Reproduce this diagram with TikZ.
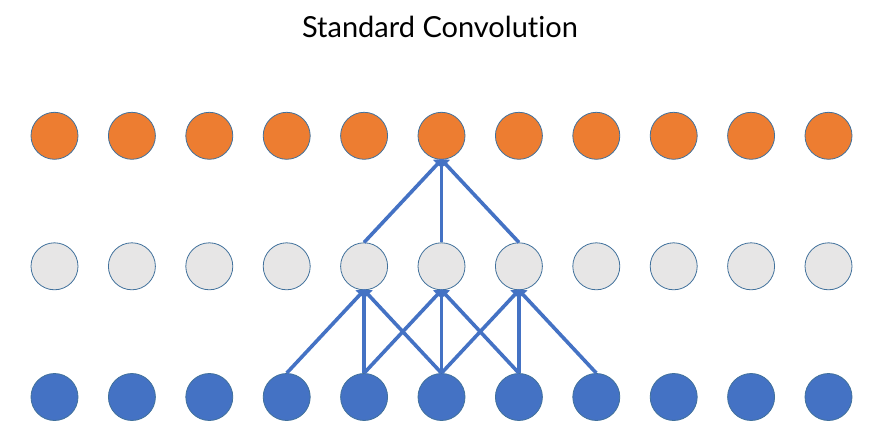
\documentclass[tikz,border=0pt]{standalone}
\usepackage{fontspec}
\setmainfont[Ligatures={NoCommon}]{Lato}
\usetikzlibrary{arrows.meta}
\definecolor{orng}{HTML}{ED7D31}
\definecolor{gry}{HTML}{E7E6E6}
\definecolor{blu}{HTML}{4472C4}
\definecolor{edge}{HTML}{41719C}
\tikzset{
  unit/.style={circle, minimum size=47pt, inner sep=0pt, draw=edge, line width=0.8pt},
  outn/.style={unit, fill=orng},
  hidn/.style={unit, fill=gry},
  inn/.style={unit, fill=blu},
  conn/.style={draw=blu, line width=3.6pt, -{Triangle[width=12pt,length=7pt]}, shorten >=-1pt},
}
\begin{document}
\begin{tikzpicture}[x=1pt,y=-1pt]
\useasboundingbox (0,0) rectangle (875,441);
\node (title) at (440,27) {\fontsize{29}{33}\selectfont Standard Convolution};
\foreach \i in {0,...,10} {
  \node[outn] (o\i) at ({54.5+77.4*\i},135.8) {};
  \node[hidn] (h\i) at ({54.5+77.4*\i},266.3) {};
  \node[inn]  (b\i) at ({54.5+77.4*\i},397) {};
}
\foreach \j in {4,5,6} {
  \path[conn] (h\j.north) -- (o5.south);
}
\foreach \j in {4,5,6} {
  \pgfmathtruncatemacro{\a}{\j-1}
  \pgfmathtruncatemacro{\c}{\j+1}
  \path[conn] (b\a.north) -- (h\j.south);
  \path[conn] (b\j.north) -- (h\j.south);
  \path[conn] (b\c.north) -- (h\j.south);
}
\end{tikzpicture}
\end{document}
